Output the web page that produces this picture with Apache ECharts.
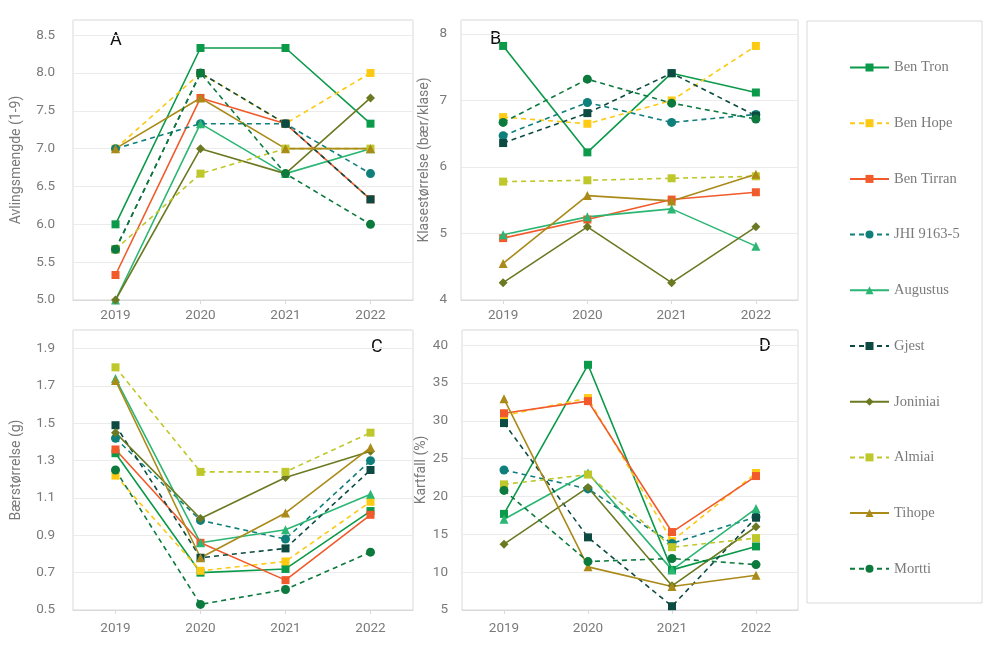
<!DOCTYPE html>
<html>
<head>
<meta charset="utf-8">
<script src="https://cdn.jsdelivr.net/npm/echarts@6/dist/echarts.min.js"></script>
<style>
html,body{margin:0;padding:0;background:#fff;}
#c{width:1000px;height:661px;}
</style>
</head>
<body>
<div id="c"></div>
<script>
// ---- data ----
const categories = ['2019', '2020', '2021', '2022'];
const seriesNames = ['Ben Tron', 'Ben Hope', 'Ben Tirran', 'JHI 9163-5', 'Augustus', 'Gjest', 'Joniniai', 'Almiai', 'Tihope', 'Mortti'];

// Panel A: Avlingsmengde (1-9)
const yieldBenTron   = [6.0, 8.33, 8.33, 7.33];
const yieldBenHope   = [7.0, 8.0, 7.33, 8.0];
const yieldBenTirran = [5.33, 7.67, 7.33, 6.33];
const yieldJHI       = [7.0, 7.33, 7.33, 6.67];
const yieldAugustus  = [5.0, 7.33, 6.67, 7.0];
const yieldGjest     = [5.67, 8.0, 7.33, 6.33];
const yieldJoniniai  = [5.0, 7.0, 6.67, 7.67];
const yieldAlmiai    = [5.67, 6.67, 7.0, 7.0];
const yieldTihope    = [7.0, 7.67, 7.0, 7.0];
const yieldMortti    = [5.67, 8.0, 6.67, 6.0];

// Panel B: Klasestørrelse (bær/klase)
const clusterBenTron   = [7.82, 6.22, 7.41, 7.12];
const clusterBenHope   = [6.75, 6.65, 7.0, 7.82];
const clusterBenTirran = [4.93, 5.21, 5.51, 5.62];
const clusterJHI       = [6.47, 6.97, 6.67, 6.79];
const clusterAugustus  = [4.98, 5.25, 5.37, 4.81];
const clusterGjest     = [6.36, 6.81, 7.41, 6.77];
const clusterJoniniai  = [4.26, 5.10, 4.26, 5.10];
const clusterAlmiai    = [5.78, 5.80, 5.83, 5.86];
const clusterTihope    = [4.55, 5.57, 5.49, 5.89];
const clusterMortti    = [6.67, 7.32, 6.96, 6.72];

// Panel C: Bærstørrelse (g)
const berryBenTron   = [1.34, 0.70, 0.72, 1.03];
const berryBenHope   = [1.22, 0.71, 0.76, 1.08];
const berryBenTirran = [1.36, 0.86, 0.66, 1.01];
const berryJHI       = [1.42, 0.98, 0.88, 1.30];
const berryAugustus  = [1.74, 0.86, 0.93, 1.12];
const berryGjest     = [1.49, 0.78, 0.83, 1.25];
const berryJoniniai  = [1.45, 0.99, 1.21, 1.35];
const berryAlmiai    = [1.80, 1.24, 1.24, 1.45];
const berryTihope    = [1.73, 0.78, 1.02, 1.37];
const berryMortti    = [1.25, 0.53, 0.61, 0.81];

// Panel D: Kartfall (%)
const dropBenTron   = [17.7, 37.4, 10.3, 13.4];
const dropBenHope   = [30.7, 33.0, 14.1, 23.1];
const dropBenTirran = [31.0, 32.6, 15.3, 22.7];
const dropJHI       = [23.5, 21.0, 13.8, 17.3];
const dropAugustus  = [17.0, 23.1, 10.3, 18.4];
const dropGjest     = [29.7, 14.6, 5.5, 17.2];
const dropJoniniai  = [13.7, 21.2, 8.2, 16.0];
const dropAlmiai    = [21.6, 22.9, 13.3, 14.5];
const dropTihope    = [32.9, 10.7, 8.1, 9.6];
const dropMortti    = [20.8, 11.4, 11.8, 11.0];

const panelA = [yieldBenTron, yieldBenHope, yieldBenTirran, yieldJHI, yieldAugustus, yieldGjest, yieldJoniniai, yieldAlmiai, yieldTihope, yieldMortti];
const panelB = [clusterBenTron, clusterBenHope, clusterBenTirran, clusterJHI, clusterAugustus, clusterGjest, clusterJoniniai, clusterAlmiai, clusterTihope, clusterMortti];
const panelC = [berryBenTron, berryBenHope, berryBenTirran, berryJHI, berryAugustus, berryGjest, berryJoniniai, berryAlmiai, berryTihope, berryMortti];
const panelD = [dropBenTron, dropBenHope, dropBenTirran, dropJHI, dropAugustus, dropGjest, dropJoniniai, dropAlmiai, dropTihope, dropMortti];

// ---- styles ----
const styles = [
  {color: '#0b9a4a', dash: false, symbol: 'rect', size: 8},
  {color: '#fcc913', dash: true,  symbol: 'rect', size: 8},
  {color: '#f15a2b', dash: false, symbol: 'rect', size: 8},
  {color: '#0f7f7b', dash: true,  symbol: 'circle', size: 9},
  {color: '#2bb673', dash: false, symbol: 'triangle', size: 9},
  {color: '#0c4a42', dash: true,  symbol: 'rect', size: 8},
  {color: '#6b7a22', dash: false, symbol: 'diamond', size: 9},
  {color: '#bec82a', dash: true,  symbol: 'rect', size: 8},
  {color: '#aa8a18', dash: false, symbol: 'triangle', size: 9},
  {color: '#0b7a3c', dash: true,  symbol: 'circle', size: 9}
];

const gray = '#7a7a7a';
const sans = 'Roboto';
const grids = [
  {left: 73, right: 587, top: 20, bottom: 361},
  {left: 461, right: 202, top: 20, bottom: 361},
  {left: 73, right: 587, top: 330, bottom: 51},
  {left: 462, right: 202, top: 330, bottom: 51}
].map(g => Object.assign(g, {show: true, borderColor: '#d9d9d9', borderWidth: 1, containLabel: false}));

function yAx(idx, min, max, interval, last, decimals, name, margin, gap) {
  return {
    type: 'value', gridIndex: idx, min: min, max: max, interval: interval,
    name: name, nameLocation: 'middle', nameGap: gap, nameRotate: 90,
    nameTextStyle: {color: gray, fontFamily: sans, fontSize: 14},
    axisLine: {show: false}, axisTick: {show: false},
    splitLine: {lineStyle: {color: '#ebebeb', width: 1}},
    axisLabel: {
      color: gray, fontFamily: sans, fontSize: 13.5, margin: margin,
      formatter: function (v) {
        const k = (v - min) / interval;
        if (Math.abs(k - Math.round(k)) > 1e-6 || v > last + 1e-9) return '';
        return v.toFixed(decimals);
      }
    }
  };
}
function xAx(idx, margin) {
  return {
    type: 'category', gridIndex: idx, data: categories, boundaryGap: true,
    axisLine: {lineStyle: {color: '#d9d9d9'}},
    axisTick: {show: true, alignWithLabel: true, length: 4, lineStyle: {color: '#d9d9d9'}},
    axisLabel: {color: gray, fontFamily: sans, fontSize: 13.5, margin: margin}
  };
}

const series = [];
[panelA, panelB, panelC, panelD].forEach((panel, p) => {
  panel.forEach((vals, i) => {
    const s = styles[i];
    series.push({
      name: seriesNames[i], type: 'line', xAxisIndex: p, yAxisIndex: p,
      data: vals, symbol: s.symbol, symbolSize: s.size, showSymbol: true,
      lineStyle: {color: s.color, width: 1.6, type: s.dash ? [5, 4] : 'solid'},
      itemStyle: {color: s.color},
      emphasis: {disabled: true}, animation: false
    });
  });
});

const letter = (t, x, y) => ({type: 'text', left: x, top: y, style: {text: t, fill: '#111', font: '18px ' + sans}});

const chart = echarts.init(document.getElementById('c'), null, {renderer: 'canvas'});
chart.setOption({
  backgroundColor: '#fff',
  animation: false,
  grid: grids,
  xAxis: [xAx(0, 9), xAx(1, 9), xAx(2, 12), xAx(3, 12)],
  yAxis: [
    yAx(0, 5, 8.7, 0.5, 8.5, 1, 'Avlingsmengde (1-9)', 18, 50),
    yAx(1, 4, 8.21, 1, 8, 0, 'Klasestørrelse (bær/klase)', 14, 30),
    yAx(2, 0.5, 2.0, 0.2, 1.9, 1, 'Bærstørrelse (g)', 18, 50),
    yAx(3, 5, 42, 5, 40, 0, 'Kartfall (%)', 14, 33)
  ],
  legend: {
    orient: 'vertical', left: 844, top: 55,
    itemWidth: 39, itemHeight: 10, itemGap: 40.7,
    data: seriesNames,
    textStyle: {color: gray, fontFamily: 'Liberation Serif', fontSize: 14.5},
    selectedMode: false
  },
  graphic: [
    {type: 'rect', shape: {x: 807, y: 21, width: 175, height: 582}, style: {fill: 'none', stroke: '#d9d9d9', lineWidth: 1}, z: -1},
    letter('A', 110, 31),
    letter('B', 490, 30),
    letter('C', 371, 338),
    letter('D', 759, 337)
  ],
  series: series
});
</script>
</body>
</html>
